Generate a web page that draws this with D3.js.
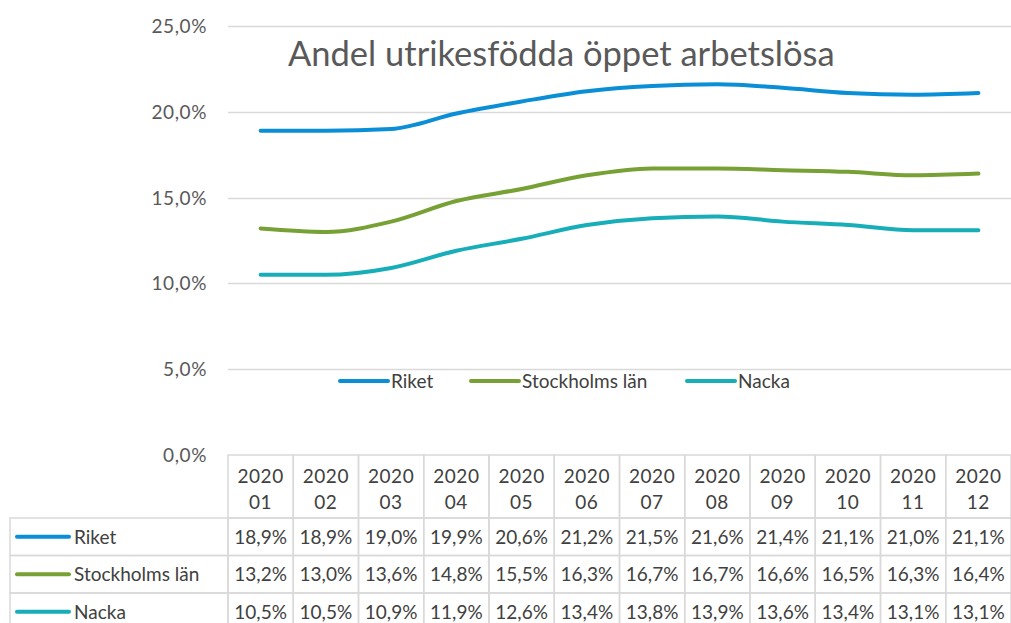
<!DOCTYPE html>
<html>
<head>
<meta charset="utf-8">
<script src="https://cdn.jsdelivr.net/npm/d3@7"></script>
<style>
  body { margin: 0; background: #fff; }
  svg { display: block; font-family: Lato, "Open Sans", sans-serif; }
</style>
</head>
<body>
<div id="container"></div>
<script>
/* CONSTANTS AND GLOBALS */
const width = 1011;
const height = 623;

/* DATA */
const year = "2020";
const months = ["01", "02", "03", "04", "05", "06", "07", "08", "09", "10", "11", "12"];
const seriesNames = ["Riket", "Stockholms län", "Nacka"];
const riket = [18.9, 18.9, 19.0, 19.9, 20.6, 21.2, 21.5, 21.6, 21.4, 21.1, 21.0, 21.1];
const stockholm = [13.2, 13.0, 13.6, 14.8, 15.5, 16.3, 16.7, 16.7, 16.6, 16.5, 16.3, 16.4];
const nacka = [10.5, 10.5, 10.9, 11.9, 12.6, 13.4, 13.8, 13.9, 13.6, 13.4, 13.1, 13.1];
const yTicks = [0, 5, 10, 15, 20, 25];
const colors = ["#0a8fd6", "#77a135", "#17adb9"];
const title = "Andel utrikesfödda öppet arbetslösa";

const seriesValues = [riket, stockholm, nacka];
const series = seriesNames.map((name, i) => ({ name, color: colors[i], values: seriesValues[i] }));

const sv = d3.formatLocale({ decimal: ",", thousands: " ", grouping: [3], currency: ["", " kr"] });
const fmt = v => sv.format(".1f")(v) + "%";

const svg = d3.select("#container")
  .append("svg")
  .attr("width", width)
  .attr("height", height);

/* SCALES */
const xScale = d3.scaleBand()
  .domain(months)
  .range([228, 1011]);

const yScale = d3.scaleLinear()
  .domain([0, 25])
  .range([455, 26]);

/* GRID + Y AXIS */
svg.selectAll(".grid")
  .data(yTicks.filter(d => d > 0))
  .join("line")
  .attr("class", "grid")
  .attr("x1", 228).attr("x2", width)
  .attr("y1", d => Math.round(yScale(d)) + 0.5)
  .attr("y2", d => Math.round(yScale(d)) + 0.5)
  .attr("stroke", "#d9d9d9")
  .attr("stroke-width", 1.5);

svg.selectAll(".ytick")
  .data(yTicks)
  .join("text")
  .attr("class", "ytick")
  .attr("x", 207)
  .attr("y", d => yScale(d) + 7)
  .attr("text-anchor", "end")
  .attr("font-size", 19)
  .attr("letter-spacing", 0.6)
  .attr("fill", "#595959")
  .text(fmt);

/* TITLE */
svg.append("text")
  .attr("x", 288)
  .attr("y", 66)
  .attr("font-size", 34.5)
  .attr("fill", "#595959")
  .text(title);

/* LINES */
const line = d3.line()
  .x((d, i) => xScale(months[i]) + xScale.bandwidth() / 2)
  .y(d => yScale(d))
  .curve(d3.curveMonotoneX);

svg.selectAll(".series")
  .data(series)
  .join("path")
  .attr("class", "series")
  .attr("d", d => line(d.values))
  .attr("fill", "none")
  .attr("stroke", d => d.color)
  .attr("stroke-width", 4)
  .attr("stroke-linecap", "round")
  .attr("stroke-linejoin", "round");

/* LEGEND */
const legendX = [340, 471, 687];
const legend = svg.selectAll(".legend")
  .data(series)
  .join("g")
  .attr("class", "legend")
  .attr("transform", (d, i) => `translate(${legendX[i]},381)`);
legend.append("line")
  .attr("x1", 0).attr("x2", 48)
  .attr("stroke", d => d.color)
  .attr("stroke-width", 4)
  .attr("stroke-linecap", "round");
legend.append("text")
  .attr("x", 51)
  .attr("y", 7)
  .attr("font-size", 19)
  .attr("fill", "#404040")
  .text(d => d.name);

/* DATA TABLE */
const rowTop = 518;
const rowH = 37.5;
const gridColor = "#d9d9d9";
const table = svg.append("g");

// header cells
table.selectAll(".hcell")
  .data(months)
  .join("rect")
  .attr("class", "hcell")
  .attr("x", d => xScale(d))
  .attr("y", 455)
  .attr("width", xScale.bandwidth())
  .attr("height", rowTop - 455)
  .attr("fill", "none")
  .attr("stroke", gridColor)
  .attr("stroke-width", 1.5);

const hText = table.selectAll(".htext")
  .data(months)
  .join("text")
  .attr("class", "htext")
  .attr("text-anchor", "middle")
  .attr("font-size", 19)
  .attr("letter-spacing", 0.5)
  .attr("fill", "#404040");
hText.append("tspan")
  .attr("x", d => xScale(d) + xScale.bandwidth() / 2)
  .attr("y", 483)
  .text(year);
hText.append("tspan")
  .attr("x", d => xScale(d) + xScale.bandwidth() / 2)
  .attr("y", 509)
  .text(d => d);

// body rows
const rows = table.selectAll(".row")
  .data(series)
  .join("g")
  .attr("class", "row")
  .attr("transform", (d, i) => `translate(0,${rowTop + i * rowH})`);

rows.append("rect")
  .attr("x", 10).attr("y", 0)
  .attr("width", 228 - 10).attr("height", rowH)
  .attr("fill", "none")
  .attr("stroke", gridColor)
  .attr("stroke-width", 1.5);
rows.append("line")
  .attr("x1", 17).attr("x2", 69)
  .attr("y1", rowH / 2).attr("y2", rowH / 2)
  .attr("stroke", d => d.color)
  .attr("stroke-width", 4)
  .attr("stroke-linecap", "round");
rows.append("text")
  .attr("x", 74)
  .attr("y", rowH / 2 + 7)
  .attr("font-size", 19)
  .attr("fill", "#404040")
  .text(d => d.name);

rows.selectAll(".cell")
  .data(d => d.values.map((v, i) => ({ m: months[i], v })))
  .join("rect")
  .attr("class", "cell")
  .attr("x", d => xScale(d.m))
  .attr("y", 0)
  .attr("width", xScale.bandwidth())
  .attr("height", rowH)
  .attr("fill", "none")
  .attr("stroke", gridColor)
  .attr("stroke-width", 1.5);

rows.selectAll(".ctext")
  .data(d => d.values.map((v, i) => ({ m: months[i], v })))
  .join("text")
  .attr("class", "ctext")
  .attr("x", d => xScale(d.m) + xScale.bandwidth() / 2)
  .attr("y", rowH / 2 + 7)
  .attr("text-anchor", "middle")
  .attr("font-size", 19)
  .attr("fill", "#404040")
  .text(d => fmt(d.v));
</script>
</body>
</html>
